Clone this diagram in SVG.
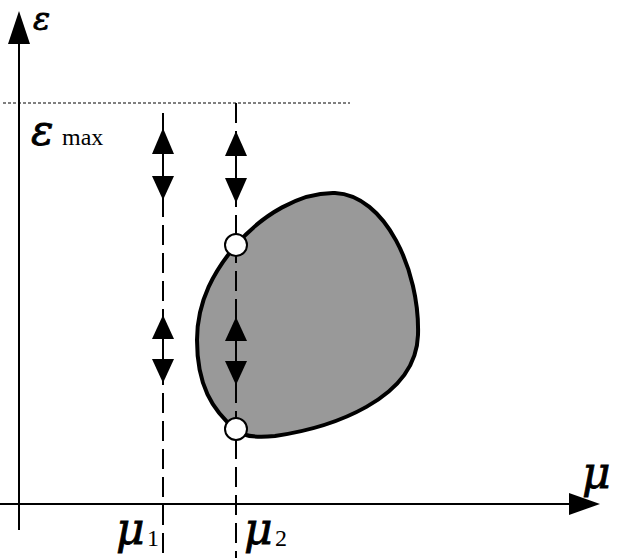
<svg xmlns="http://www.w3.org/2000/svg" width="618" height="558" viewBox="0 0 618 558">
<style>
.ax{stroke:#000;stroke-width:2;fill:none}
.dash{stroke:#000;stroke-width:2;stroke-dasharray:20 8;fill:none}
.dot{stroke:#000;stroke-width:1;stroke-dasharray:3 2;fill:none}
.head{fill:#000}
.lbl{font-family:"DejaVu Serif",serif;font-style:italic;fill:#000;stroke:#000;stroke-width:0.8}
.sub{font-family:"Liberation Serif",serif;fill:#000}
</style>
<rect width="618" height="558" fill="#fff"/>
<g id="blob">
<path d="M236,245 C262,215 300,192 335,193 C385,195 420,270 418,335 C416,400 330,428 275,436 C255,438 242,436 236,430 C212,410 197,385 197,340 C197,300 215,270 236,245 Z" fill="#999" stroke="#000" stroke-width="4"/>
</g>
<g id="connectors">
<line class="ax" x1="19" y1="530" x2="19" y2="40"/>
<polygon class="head" points="19,11 8,44 30,44"/>
<line class="ax" x1="0" y1="504" x2="572" y2="504"/>
<polygon class="head" points="600,504 569,493 569,515"/>
<line class="dot" x1="3" y1="103" x2="350" y2="103"/>
<line class="dash" x1="163" y1="113" x2="163" y2="558"/>
<line class="dash" x1="236" y1="103" x2="236" y2="558"/>
<g id="arr1">
<line class="ax" x1="163" y1="150" x2="163" y2="180"/>
<polygon class="head" points="163,128 152,154 174,154"/>
<polygon class="head" points="163,200 152,176 174,176"/>
</g>
<g id="arr2">
<line class="ax" x1="236" y1="152" x2="236" y2="182"/>
<polygon class="head" points="236,131 225,156 247,156"/>
<polygon class="head" points="236,203 225,178 247,178"/>
</g>
<g id="arr3">
<line class="ax" x1="163" y1="335" x2="163" y2="363"/>
<polygon class="head" points="163,315 152,339 174,339"/>
<polygon class="head" points="163,383 152,359 174,359"/>
</g>
<g id="arr4">
<line class="ax" x1="236" y1="337" x2="236" y2="365"/>
<polygon class="head" points="236,317 225,341 247,341"/>
<polygon class="head" points="236,385 225,361 247,361"/>
</g>
</g>
<g id="pt1"><circle cx="236" cy="245" r="11" fill="#fff" stroke="#000" stroke-width="2"/></g>
<g id="pt2"><circle cx="236" cy="429" r="11" fill="#fff" stroke="#000" stroke-width="2"/></g>
<g id="labels">
<text class="lbl" x="33" y="30" font-size="32">ε</text>
<text class="lbl" x="31" y="145" font-size="42">ε</text>
<text class="sub" x="62" y="145" font-size="24">max</text>
<text class="lbl" x="582" y="488" font-size="44">μ</text>
<text class="lbl" x="116" y="544" font-size="44">μ</text>
<text class="sub" x="147" y="546" font-size="24">1</text>
<text class="lbl" x="244" y="544" font-size="44">μ</text>
<text class="sub" x="275" y="546" font-size="24">2</text>
</g>
</svg>
